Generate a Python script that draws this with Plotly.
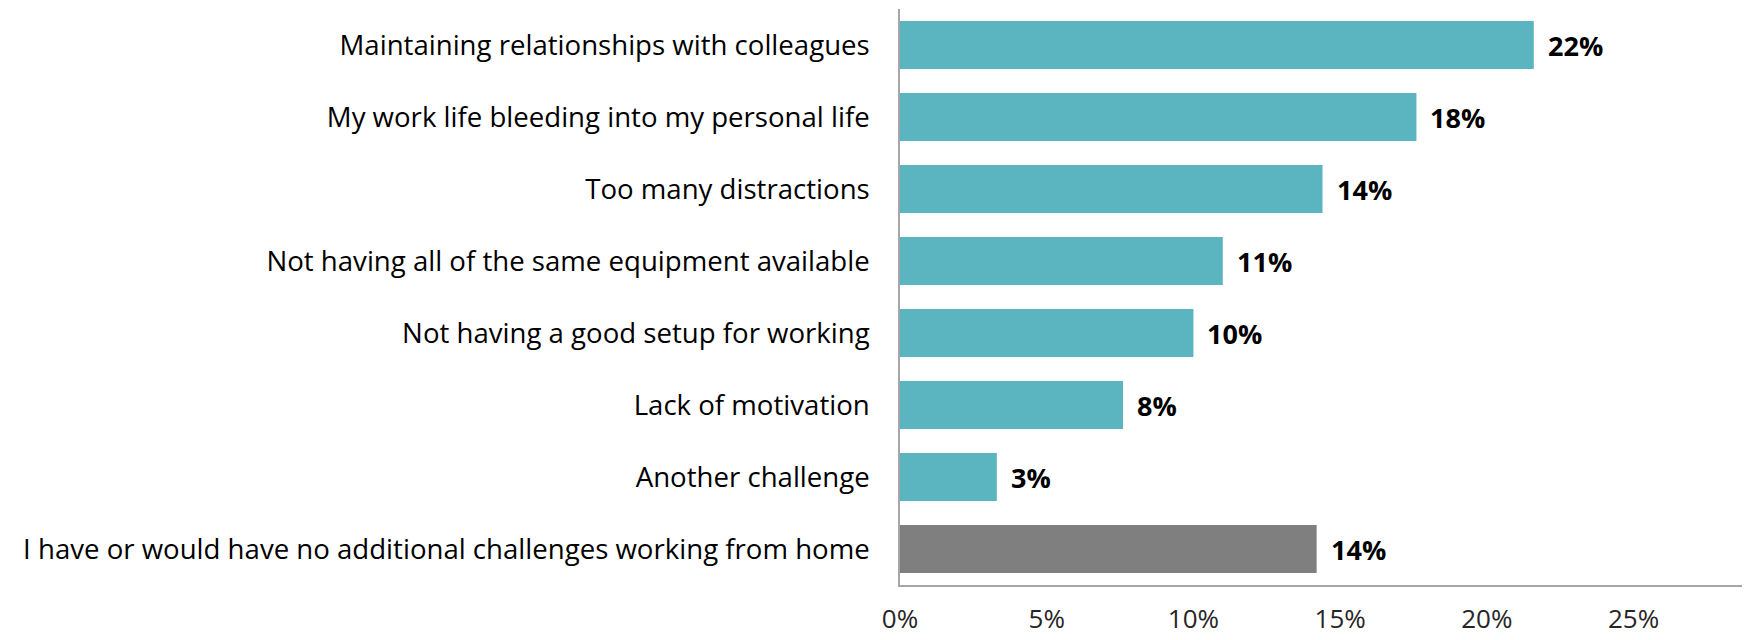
import plotly.graph_objects as go

categories = [
    "Maintaining relationships with colleagues",
    "My work life bleeding into my personal life",
    "Too many distractions",
    "Not having all of the same equipment available",
    "Not having a good setup for working",
    "Lack of motivation",
    "Another challenge",
    "I have or would have no additional challenges working from home",
]
values = [21.6, 17.6, 14.4, 11.0, 10.0, 7.6, 3.3, 14.2]
bar_colors = ["#5BB5C0"] * 7 + ["#7F7F7F"]
tick_vals = [0, 5, 10, 15, 20, 25]
tick_text = ["0%", "5%", "10%", "15%", "20%", "25%"]

FONT = "Open Sans"

fig = go.Figure()
fig.add_trace(go.Bar(
    y=categories,
    x=values,
    orientation="h",
    marker=dict(color=bar_colors, line=dict(width=0)),
    hoverinfo="skip",
))

for c, v in zip(categories, values):
    fig.add_annotation(
        x=v, y=c, text=f"<b>{v:.0f}%</b>", showarrow=False,
        xanchor="left", yanchor="middle", xshift=12,
        font=dict(family=FONT, size=27, color="#000000"),
    )

# page body has an 8px default margin, so the figure is sized to fit the window
fig.update_layout(
    width=1742, height=632,
    margin=dict(l=892, r=2, t=1, b=55),
    paper_bgcolor="white", plot_bgcolor="white",
    bargap=0.333,
    showlegend=False,
    font=dict(family=FONT, size=27, color="#000000"),
)
fig.update_xaxes(
    range=[0, 28.9],
    tickvals=tick_vals, ticktext=tick_text,
    showgrid=False, zeroline=False, automargin=False,
    showline=True, linecolor="#A6A6A6", linewidth=1.5,
    ticks="", ticklabelstandoff=10,
    tickfont=dict(family=FONT, size=26, color="#262626"),
)
fig.update_yaxes(
    autorange="reversed", automargin=False,
    showgrid=False, zeroline=False,
    showline=True, linecolor="#A6A6A6", linewidth=1.5,
    ticks="", ticklabelstandoff=23,
    tickfont=dict(family=FONT, size=27.6, color="#000000"),
)

fig.write_html("out.html")
